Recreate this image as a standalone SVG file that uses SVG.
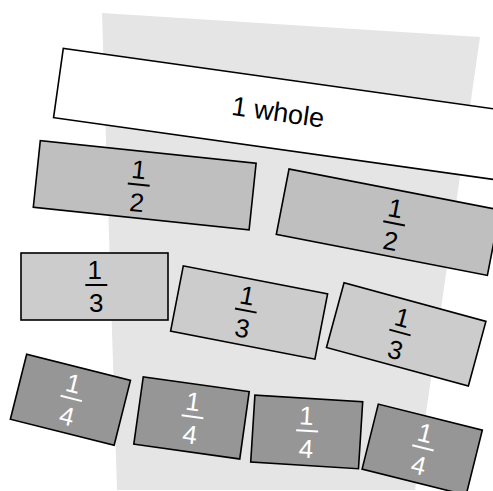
<svg xmlns="http://www.w3.org/2000/svg" width="493" height="491" viewBox="0 0 493 491">
<style>
.box{stroke:#000;stroke-width:1.6;stroke-linejoin:miter}
.w{fill:#ffffff}
.h{fill:#bfbfbf}
.t{fill:#cccccc}
.q{fill:#969696}
.fr{font-family:"Liberation Sans",Arial,Helvetica,sans-serif;font-size:26px;text-anchor:middle}
.dk{fill:#000}
.lt{fill:#fff}
.bar{stroke-width:2}
.lbl{font-family:"Liberation Sans",Arial,Helvetica,sans-serif;font-size:27px;text-anchor:middle;fill:#000}
</style>
<polygon id="background" points="102,13 480,37 415,490 117,490" fill="#e5e5e5"/>
<g id="connectors"/>
<g id="whole" transform="translate(63.3,48.3) rotate(8)">
<rect class="box w" x="0" y="0" width="470" height="70"/>
<text class="lbl" x="221.5" y="42.5">1 whole</text>
</g>
<g id="half1" transform="translate(144.7,185.3) rotate(6)">
<rect class="box h" x="-108.5" y="-33.5" width="217" height="67"/>
<g class="fr dk" transform="translate(-6,0)"><text x="-1.5" y="-6">1</text><line class="bar" x1="-11" y1="0" x2="11" y2="0" stroke="#000"/><text x="0" y="27">2</text></g>
</g>
<g id="half2" transform="translate(388.2,222.2) rotate(11)">
<rect class="box h" x="-107.5" y="-33.3" width="215" height="66.6"/>
<g class="fr dk" transform="translate(6,0)"><text x="-1.5" y="-6">1</text><line class="bar" x1="-11" y1="0" x2="11" y2="0" stroke="#000"/><text x="0" y="27">2</text></g>
</g>
<g id="third1" transform="translate(94.5,286.5)">
<rect class="box t" x="-73.5" y="-33.5" width="147" height="67"/>
<g class="fr dk" transform="translate(1.8,-1.5)"><text x="-1.5" y="-6">1</text><line class="bar" x1="-11" y1="0" x2="11" y2="0" stroke="#000"/><text x="0" y="27">3</text></g>
</g>
<g id="third2" transform="translate(249.1,312.5) rotate(11)">
<rect class="box t" x="-73.5" y="-33.25" width="147" height="66.5"/>
<g class="fr dk" transform="translate(-3.6,-1.3)"><text x="-1.5" y="-6">1</text><line class="bar" x1="-11" y1="0" x2="11" y2="0" stroke="#000"/><text x="0" y="27">3</text></g>
</g>
<g id="third3" transform="translate(406.2,334.4) rotate(15.2)">
<rect class="box t" x="-73.5" y="-33.5" width="147" height="67"/>
<g class="fr dk" transform="translate(-6.5,-0.2)"><text x="-1.5" y="-6">1</text><line class="bar" x1="-11" y1="0" x2="11" y2="0" stroke="#000"/><text x="0" y="27">3</text></g>
</g>
<g id="quarter1" transform="translate(70.4,399.8) rotate(14.1)">
<rect class="box q" x="-53.5" y="-33.5" width="107" height="67"/>
<g class="fr lt" transform="translate(0.5,-1.5)"><text x="-1.5" y="-6">1</text><line class="bar" x1="-11" y1="0" x2="11" y2="0" stroke="#fff"/><text x="0" y="27">4</text></g>
</g>
<g id="quarter2" transform="translate(191.5,417.9) rotate(8)">
<rect class="box q" x="-53.5" y="-34" width="107" height="68"/>
<g class="fr lt" transform="translate(0.8,-1.3)"><text x="-1.5" y="-6">1</text><line class="bar" x1="-11" y1="0" x2="11" y2="0" stroke="#fff"/><text x="0" y="27">4</text></g>
</g>
<g id="quarter3" transform="translate(306.7,431.9) rotate(3.6)">
<rect class="box q" x="-54" y="-33.5" width="108" height="67"/>
<g class="fr lt" transform="translate(0.4,-1.1)"><text x="-1.5" y="-6">1</text><line class="bar" x1="-11" y1="0" x2="11" y2="0" stroke="#fff"/><text x="0" y="27">4</text></g>
</g>
<g id="quarter4" transform="translate(422.2,449.6) rotate(14)">
<rect class="box q" x="-53.6" y="-33.5" width="107.2" height="67"/>
<g class="fr lt" transform="translate(0.3,-1.9)"><text x="-1.5" y="-6">1</text><line class="bar" x1="-11" y1="0" x2="11" y2="0" stroke="#fff"/><text x="0" y="27">4</text></g>
</g>
</svg>
